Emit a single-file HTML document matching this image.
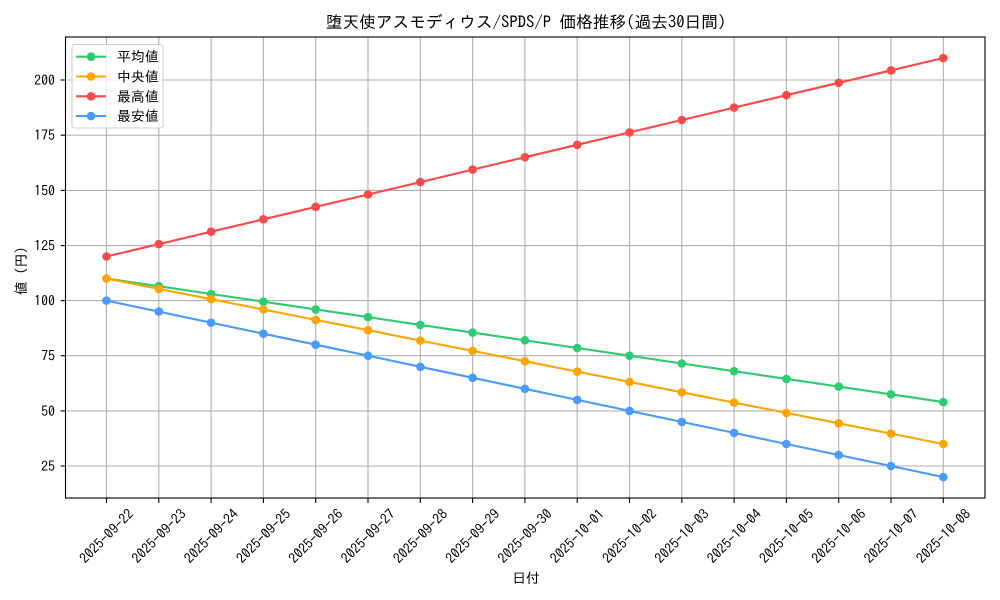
<!DOCTYPE html>
<html><head><meta charset="utf-8"><style>
html,body{margin:0;padding:0;background:#fff;}
svg{display:block;font-family:"IPAGothic","Noto Sans CJK JP","Liberation Sans",sans-serif;}
</style></head><body>
<svg width="1000" height="600" viewBox="0 0 1000 600" xmlns="http://www.w3.org/2000/svg">
<rect width="1000" height="600" fill="#fff"/>
<!-- grid -->
<g stroke="#b0b0b0" stroke-width="1.1">
<line x1="106.5" y1="37" x2="106.5" y2="498"/><line x1="158.8" y1="37" x2="158.8" y2="498"/><line x1="211.1" y1="37" x2="211.1" y2="498"/><line x1="263.4" y1="37" x2="263.4" y2="498"/><line x1="315.7" y1="37" x2="315.7" y2="498"/><line x1="368" y1="37" x2="368" y2="498"/><line x1="420.3" y1="37" x2="420.3" y2="498"/><line x1="472.6" y1="37" x2="472.6" y2="498"/><line x1="524.9" y1="37" x2="524.9" y2="498"/><line x1="577.2" y1="37" x2="577.2" y2="498"/><line x1="629.5" y1="37" x2="629.5" y2="498"/><line x1="681.8" y1="37" x2="681.8" y2="498"/><line x1="734.1" y1="37" x2="734.1" y2="498"/><line x1="786.4" y1="37" x2="786.4" y2="498"/><line x1="838.7" y1="37" x2="838.7" y2="498"/><line x1="891" y1="37" x2="891" y2="498"/><line x1="943.3" y1="37" x2="943.3" y2="498"/>
<line x1="65.5" y1="466" x2="985" y2="466"/><line x1="65.5" y1="410.9" x2="985" y2="410.9"/><line x1="65.5" y1="355.7" x2="985" y2="355.7"/><line x1="65.5" y1="300.6" x2="985" y2="300.6"/><line x1="65.5" y1="245.6" x2="985" y2="245.6"/><line x1="65.5" y1="190.4" x2="985" y2="190.4"/><line x1="65.5" y1="135.2" x2="985" y2="135.2"/><line x1="65.5" y1="80" x2="985" y2="80"/>
</g>
<!-- series -->
<g fill="none" stroke-width="2.1" stroke-linejoin="round">
<polyline stroke="#2ecc71" points="106.5,278.5 158.8,286.2 211.1,294.0 263.4,301.7 315.7,309.4 368,317.1 420.3,324.9 472.6,332.6 524.9,340.3 577.2,348.0 629.5,355.7 681.8,363.5 734.1,371.2 786.4,378.9 838.7,386.6 891,394.3 943.3,402.1"/>
</g>
<g fill="#2ecc71">
<circle cx="106.5" cy="278.5" r="4.3"/><circle cx="158.8" cy="286.2" r="4.3"/><circle cx="211.1" cy="294.0" r="4.3"/><circle cx="263.4" cy="301.7" r="4.3"/><circle cx="315.7" cy="309.4" r="4.3"/><circle cx="368" cy="317.1" r="4.3"/><circle cx="420.3" cy="324.9" r="4.3"/><circle cx="472.6" cy="332.6" r="4.3"/><circle cx="524.9" cy="340.3" r="4.3"/><circle cx="577.2" cy="348.0" r="4.3"/><circle cx="629.5" cy="355.7" r="4.3"/><circle cx="681.8" cy="363.5" r="4.3"/><circle cx="734.1" cy="371.2" r="4.3"/><circle cx="786.4" cy="378.9" r="4.3"/><circle cx="838.7" cy="386.6" r="4.3"/><circle cx="891" cy="394.3" r="4.3"/><circle cx="943.3" cy="402.1" r="4.3"/>
</g>
<polyline fill="none" stroke-width="2.1" stroke="#ffa500" points="106.5,278.5 158.8,288.9 211.1,299.2 263.4,309.5 315.7,319.9 368,330.2 420.3,340.6 472.6,350.9 524.9,361.2 577.2,371.6 629.5,381.9 681.8,392.3 734.1,402.6 786.4,412.9 838.7,423.3 891,433.6 943.3,444.0"/>
<g fill="#ffa500">
<circle cx="106.5" cy="278.5" r="4.3"/><circle cx="158.8" cy="288.9" r="4.3"/><circle cx="211.1" cy="299.2" r="4.3"/><circle cx="263.4" cy="309.5" r="4.3"/><circle cx="315.7" cy="319.9" r="4.3"/><circle cx="368" cy="330.2" r="4.3"/><circle cx="420.3" cy="340.6" r="4.3"/><circle cx="472.6" cy="350.9" r="4.3"/><circle cx="524.9" cy="361.2" r="4.3"/><circle cx="577.2" cy="371.6" r="4.3"/><circle cx="629.5" cy="381.9" r="4.3"/><circle cx="681.8" cy="392.3" r="4.3"/><circle cx="734.1" cy="402.6" r="4.3"/><circle cx="786.4" cy="412.9" r="4.3"/><circle cx="838.7" cy="423.3" r="4.3"/><circle cx="891" cy="433.6" r="4.3"/><circle cx="943.3" cy="444.0" r="4.3"/>
</g>
<polyline fill="none" stroke-width="2.1" stroke="#ff4848" points="106.5,256.5 158.8,244.1 211.1,231.7 263.4,219.3 315.7,206.9 368,194.5 420.3,182.1 472.6,169.6 524.9,157.2 577.2,144.8 629.5,132.4 681.8,120.0 734.1,107.6 786.4,95.2 838.7,82.8 891,70.4 943.3,58.0"/>
<g fill="#ff4848">
<circle cx="106.5" cy="256.5" r="4.3"/><circle cx="158.8" cy="244.1" r="4.3"/><circle cx="211.1" cy="231.7" r="4.3"/><circle cx="263.4" cy="219.3" r="4.3"/><circle cx="315.7" cy="206.9" r="4.3"/><circle cx="368" cy="194.5" r="4.3"/><circle cx="420.3" cy="182.1" r="4.3"/><circle cx="472.6" cy="169.6" r="4.3"/><circle cx="524.9" cy="157.2" r="4.3"/><circle cx="577.2" cy="144.8" r="4.3"/><circle cx="629.5" cy="132.4" r="4.3"/><circle cx="681.8" cy="120.0" r="4.3"/><circle cx="734.1" cy="107.6" r="4.3"/><circle cx="786.4" cy="95.2" r="4.3"/><circle cx="838.7" cy="82.8" r="4.3"/><circle cx="891" cy="70.4" r="4.3"/><circle cx="943.3" cy="58.0" r="4.3"/>
</g>
<polyline fill="none" stroke-width="2.1" stroke="#4a9bff" points="106.5,300.6 158.8,311.6 211.1,322.7 263.4,333.7 315.7,344.7 368,355.7 420.3,366.8 472.6,377.8 524.9,388.8 577.2,399.9 629.5,410.9 681.8,421.9 734.1,432.9 786.4,444.0 838.7,455.0 891,466.0 943.3,477.1"/>
<g fill="#4a9bff">
<circle cx="106.5" cy="300.6" r="4.3"/><circle cx="158.8" cy="311.6" r="4.3"/><circle cx="211.1" cy="322.7" r="4.3"/><circle cx="263.4" cy="333.7" r="4.3"/><circle cx="315.7" cy="344.7" r="4.3"/><circle cx="368" cy="355.7" r="4.3"/><circle cx="420.3" cy="366.8" r="4.3"/><circle cx="472.6" cy="377.8" r="4.3"/><circle cx="524.9" cy="388.8" r="4.3"/><circle cx="577.2" cy="399.9" r="4.3"/><circle cx="629.5" cy="410.9" r="4.3"/><circle cx="681.8" cy="421.9" r="4.3"/><circle cx="734.1" cy="432.9" r="4.3"/><circle cx="786.4" cy="444.0" r="4.3"/><circle cx="838.7" cy="455.0" r="4.3"/><circle cx="891" cy="466.0" r="4.3"/><circle cx="943.3" cy="477.1" r="4.3"/>
</g>
<!-- spines -->
<rect x="65.5" y="37" width="919.5" height="461" fill="none" stroke="#000" stroke-width="1.1"/>
<!-- ticks -->
<g stroke="#000" stroke-width="1.1">
<line x1="60.7" y1="466" x2="65.5" y2="466"/><line x1="60.7" y1="410.9" x2="65.5" y2="410.9"/><line x1="60.7" y1="355.7" x2="65.5" y2="355.7"/><line x1="60.7" y1="300.6" x2="65.5" y2="300.6"/><line x1="60.7" y1="245.6" x2="65.5" y2="245.6"/><line x1="60.7" y1="190.4" x2="65.5" y2="190.4"/><line x1="60.7" y1="135.2" x2="65.5" y2="135.2"/><line x1="60.7" y1="80" x2="65.5" y2="80"/>
<line x1="106.5" y1="498" x2="106.5" y2="503"/><line x1="158.8" y1="498" x2="158.8" y2="503"/><line x1="211.1" y1="498" x2="211.1" y2="503"/><line x1="263.4" y1="498" x2="263.4" y2="503"/><line x1="315.7" y1="498" x2="315.7" y2="503"/><line x1="368" y1="498" x2="368" y2="503"/><line x1="420.3" y1="498" x2="420.3" y2="503"/><line x1="472.6" y1="498" x2="472.6" y2="503"/><line x1="524.9" y1="498" x2="524.9" y2="503"/><line x1="577.2" y1="498" x2="577.2" y2="503"/><line x1="629.5" y1="498" x2="629.5" y2="503"/><line x1="681.8" y1="498" x2="681.8" y2="503"/><line x1="734.1" y1="498" x2="734.1" y2="503"/><line x1="786.4" y1="498" x2="786.4" y2="503"/><line x1="838.7" y1="498" x2="838.7" y2="503"/><line x1="891" y1="498" x2="891" y2="503"/><line x1="943.3" y1="498" x2="943.3" y2="503"/>
</g>
<!-- y tick labels -->
<g font-size="13.9" fill="#000" text-anchor="end" dominant-baseline="central">
<text x="55" y="466">25</text><text x="55" y="410.9">50</text><text x="55" y="355.7">75</text><text x="55" y="300.6">100</text><text x="55" y="245.6">125</text><text x="55" y="190.4">150</text><text x="55" y="135.2">175</text><text x="55" y="80">200</text>
</g>
<!-- x tick labels -->
<g font-size="13.9" fill="#000" text-anchor="middle" dominant-baseline="central">
<text transform="translate(106.5,536) rotate(-45)">2025-09-22</text>
<text transform="translate(158.8,536) rotate(-45)">2025-09-23</text>
<text transform="translate(211.1,536) rotate(-45)">2025-09-24</text>
<text transform="translate(263.4,536) rotate(-45)">2025-09-25</text>
<text transform="translate(315.7,536) rotate(-45)">2025-09-26</text>
<text transform="translate(368,536) rotate(-45)">2025-09-27</text>
<text transform="translate(420.3,536) rotate(-45)">2025-09-28</text>
<text transform="translate(472.6,536) rotate(-45)">2025-09-29</text>
<text transform="translate(524.9,536) rotate(-45)">2025-09-30</text>
<text transform="translate(577.2,536) rotate(-45)">2025-10-01</text>
<text transform="translate(629.5,536) rotate(-45)">2025-10-02</text>
<text transform="translate(681.8,536) rotate(-45)">2025-10-03</text>
<text transform="translate(734.1,536) rotate(-45)">2025-10-04</text>
<text transform="translate(786.4,536) rotate(-45)">2025-10-05</text>
<text transform="translate(838.7,536) rotate(-45)">2025-10-06</text>
<text transform="translate(891,536) rotate(-45)">2025-10-07</text>
<text transform="translate(943.3,536) rotate(-45)">2025-10-08</text>
</g>
<!-- axis labels & title -->
<text x="526" y="578" font-size="13.9" text-anchor="middle" dominant-baseline="central">日付</text>
<text transform="translate(21,267.5) rotate(-90)" font-size="13.9" text-anchor="middle" dominant-baseline="central">値（円）</text>
<text x="526" y="22.5" font-size="16.7" text-anchor="middle" dominant-baseline="central">堕天使アスモディウス/SPDS/P 価格推移(過去30日間)</text>
<!-- legend -->
<rect x="72" y="44.5" width="91" height="83.5" rx="3" fill="#fff" fill-opacity="0.8" stroke="#cccccc" stroke-width="1"/>
<g stroke-width="2.1">
<line x1="76" y1="56.7" x2="106" y2="56.7" stroke="#2ecc71"/><circle cx="91" cy="56.7" r="4.3" fill="#2ecc71"/>
<line x1="76" y1="76.5" x2="106" y2="76.5" stroke="#ffa500"/><circle cx="91" cy="76.5" r="4.3" fill="#ffa500"/>
<line x1="76" y1="96.3" x2="106" y2="96.3" stroke="#ff4848"/><circle cx="91" cy="96.3" r="4.3" fill="#ff4848"/>
<line x1="76" y1="116.1" x2="106" y2="116.1" stroke="#4a9bff"/><circle cx="91" cy="116.1" r="4.3" fill="#4a9bff"/>
</g>
<g font-size="13.9" fill="#000" dominant-baseline="central">
<text x="117" y="56.7">平均値</text>
<text x="117" y="76.5">中央値</text>
<text x="117" y="96.3">最高値</text>
<text x="117" y="116.1">最安値</text>
</g>
</svg>
</body></html>
